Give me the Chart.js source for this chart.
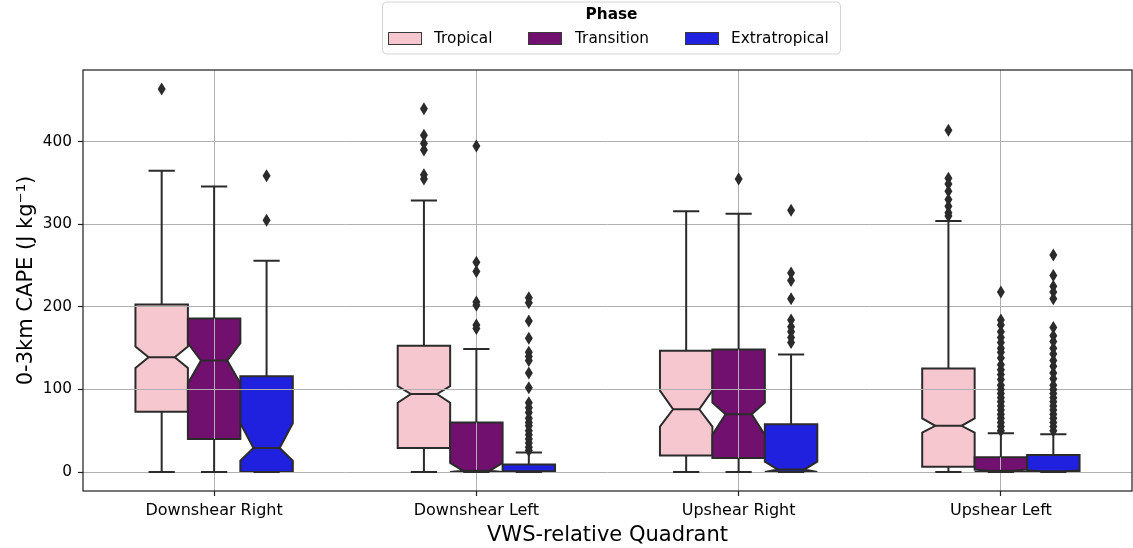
<!DOCTYPE html>
<html><head><meta charset="utf-8">
<script src="https://cdn.jsdelivr.net/npm/chart.js@4.4.0/dist/chart.umd.min.js"></script>
<style>html,body{margin:0;padding:0;background:#fff}#wrap{width:1133px;height:548px}</style>
</head><body><div id="wrap"><canvas id="c" width="1133" height="548"></canvas></div>
<script>
// ---- data (rows: Tropical, Transition, Extratropical; columns: categories) ----
const categories = ['Downshear Right', 'Downshear Left', 'Upshear Right', 'Upshear Left'];
const phases = ['Tropical', 'Transition', 'Extratropical'];
const phaseColors = ['#f7c7cf', '#721070', '#2020df'];
const yTicks = [0, 100, 200, 300, 400];

const whiskerLow  = [[0, 0, 0, 0], [0, 0, 0, 0], [0, 0, 0, 0]];
const q1          = [[73, 29, 20, 6.5], [40, 0, 17, 0], [0, 0, 0, 0]];
const notchLo     = [[126, 84, 55, 47.7], [107.5, 0, 45, 0], [13.7, 1, 0, 0.5]];
const median      = [[139, 94.5, 76, 56], [135, 1.5, 70, 1.5], [29, 1, 3, 1]];
const notchHi     = [[152, 104, 98.6, 65], [156, 11, 84, 3], [59, 1, 12.5, 2]];
const q3          = [[203, 153, 147, 125.5], [186, 60, 148.5, 17.8], [116, 9, 58, 20.6]];
const whiskerHigh = [[365, 329, 316, 304], [346, 149, 313, 47], [256, 23.5, 142.5, 45.7]];

const tropicalOutliers = [[464], [440, 408, 398, 390, 360, 355], [], [414, 356, 349, 340, 330, 322, 314, 310]];
const transitionOutliers = [[], [395, 254, 243, 206, 202, 178, 174], [355],
  [218, 184, 178, 170, 163, 157, 150, 145, 138, 130, 124, 118, 112, 105, 100, 95, 90, 85, 80, 75, 70, 65, 60, 55, 50]];
const extratropicalOutliers = [[359, 305],
  [211, 205, 183, 162, 145, 140, 135, 120, 102, 84, 78, 72, 65, 60, 56, 50, 45, 40, 35, 30, 26],
  [317, 241, 232, 210, 184, 176, 170, 163, 157],
  [263, 238, 225, 218, 210, 175, 165, 158, 150, 143, 135, 128, 120, 113, 105, 100, 95, 90, 85, 80, 75, 70, 65, 60, 55, 50]];
const outliers = [tropicalOutliers, transitionOutliers, extratropicalOutliers];

const FONT = "'DejaVu Sans', 'Liberation Sans', sans-serif";
const EDGE = '#2b2b2b';

function geom(chart, i, j) {
  const bar = chart.getDatasetMeta(i).data[j];
  const cx = bar.x, w = bar.width;
  return { cx, l: cx - w / 2, r: cx + w / 2, cl: cx - w / 4, cr: cx + w / 4 };
}

const boxPlugin = {
  id: 'notchedBoxes',
  afterDatasetsDraw(chart) {
    const ctx = chart.ctx, ys = chart.scales.y;
    const Y = v => ys.getPixelForValue(v);
    ctx.save();
    ctx.lineWidth = 2; ctx.strokeStyle = EDGE; ctx.lineJoin = 'miter';
    phases.forEach((p, i) => {
      categories.forEach((c, j) => {
        const g = geom(chart, i, j);
        ctx.beginPath();
        ctx.moveTo(g.l, Y(q1[i][j]));
        ctx.lineTo(g.r, Y(q1[i][j]));
        ctx.lineTo(g.r, Y(notchLo[i][j]));
        ctx.lineTo(g.cr, Y(median[i][j]));
        ctx.lineTo(g.r, Y(notchHi[i][j]));
        ctx.lineTo(g.r, Y(q3[i][j]));
        ctx.lineTo(g.l, Y(q3[i][j]));
        ctx.lineTo(g.l, Y(notchHi[i][j]));
        ctx.lineTo(g.cl, Y(median[i][j]));
        ctx.lineTo(g.l, Y(notchLo[i][j]));
        ctx.closePath();
        ctx.fillStyle = phaseColors[i];
        ctx.fill();
        ctx.stroke();
      });
    });
    ctx.restore();
  },
  afterDraw(chart) {
    const ctx = chart.ctx, ys = chart.scales.y, ca = chart.chartArea;
    const Y = v => ys.getPixelForValue(v);
    ctx.save();
    ctx.lineWidth = 2; ctx.strokeStyle = EDGE; ctx.fillStyle = EDGE; ctx.lineCap = 'butt';
    phases.forEach((p, i) => {
      categories.forEach((c, j) => {
        const g = geom(chart, i, j);
        ctx.beginPath();
        ctx.moveTo(g.cx, Y(q3[i][j])); ctx.lineTo(g.cx, Y(whiskerHigh[i][j]));
        ctx.moveTo(g.cx, Y(q1[i][j])); ctx.lineTo(g.cx, Y(whiskerLow[i][j]));
        ctx.moveTo(g.cl, Y(whiskerHigh[i][j])); ctx.lineTo(g.cr, Y(whiskerHigh[i][j]));
        ctx.moveTo(g.cl, Y(whiskerLow[i][j])); ctx.lineTo(g.cr, Y(whiskerLow[i][j]));
        ctx.moveTo(g.cl, Y(median[i][j])); ctx.lineTo(g.cr, Y(median[i][j]));
        ctx.stroke();
        outliers[i][j].forEach(v => {
          const py = Y(v);
          ctx.beginPath();
          ctx.moveTo(g.cx, py - 6.5); ctx.lineTo(g.cx + 4, py);
          ctx.lineTo(g.cx, py + 6.5); ctx.lineTo(g.cx - 4, py);
          ctx.closePath(); ctx.fill();
        });
      });
    });
    ctx.lineWidth = 1.25; ctx.strokeStyle = '#262626';
    ctx.strokeRect(ca.left, ca.top, ca.right - ca.left, ca.bottom - ca.top);
    const lx = 382.5, ly = 2, lw = 458, lh = 52, rad = 4;
    ctx.beginPath();
    ctx.moveTo(lx + rad, ly); ctx.lineTo(lx + lw - rad, ly); ctx.quadraticCurveTo(lx + lw, ly, lx + lw, ly + rad);
    ctx.lineTo(lx + lw, ly + lh - rad); ctx.quadraticCurveTo(lx + lw, ly + lh, lx + lw - rad, ly + lh);
    ctx.lineTo(lx + rad, ly + lh); ctx.quadraticCurveTo(lx, ly + lh, lx, ly + lh - rad);
    ctx.lineTo(lx, ly + rad); ctx.quadraticCurveTo(lx, ly, lx + rad, ly); ctx.closePath();
    ctx.fillStyle = 'rgba(255,255,255,0.8)'; ctx.fill();
    ctx.lineWidth = 1; ctx.strokeStyle = '#d4d4d4'; ctx.stroke();
    ctx.fillStyle = '#000'; ctx.textBaseline = 'middle'; ctx.textAlign = 'center';
    ctx.font = 'bold 15.3px ' + FONT;
    ctx.fillText('Phase', 611.5, 15.5);
    const patchX = [388, 528, 685], textX = [434, 575, 731];
    ctx.font = '15.3px ' + FONT; ctx.textAlign = 'left';
    phases.forEach((p, i) => {
      ctx.fillStyle = phaseColors[i];
      ctx.fillRect(patchX[i], 32.5, 34, 12);
      ctx.lineWidth = 1; ctx.strokeStyle = '#3a3a3a';
      ctx.strokeRect(patchX[i] + 0.5, 32.5, 33, 12);
      ctx.fillStyle = '#000';
      ctx.fillText(p, textX[i], 39);
    });
    ctx.restore();
  }
};

new Chart(document.getElementById('c').getContext('2d'), {
  type: 'bar',
  data: {
    labels: categories,
    datasets: phases.map((p, i) => ({
      label: p,
      data: categories.map((c, j) => [q1[i][j], q3[i][j]]),
      backgroundColor: 'rgba(0,0,0,0)',
      borderWidth: 0,
      categoryPercentage: 0.6,
      barPercentage: 1.0
    }))
  },
  options: {
    responsive: false,
    animation: false,
    devicePixelRatio: 1,
    layout: { padding: { top: 70, right: 1, left: 0, bottom: 0 } },
    plugins: { legend: { display: false }, tooltip: { enabled: false } },
    scales: {
      x: {
        grid: { offset: false, color: '#b0b0b0', lineWidth: 1, z: 1, tickLength: 5, tickColor: '#222', tickWidth: 1.2 },
        border: { display: false },
        ticks: { font: { family: FONT, size: 16 }, color: '#000', padding: 5, maxRotation: 0, autoSkip: false },
        title: { display: true, text: 'VWS-relative Quadrant', font: { family: FONT, size: 21 }, color: '#000', padding: { top: 0, bottom: 0 } },
        afterFit(s) { s.height = 57; }
      },
      y: {
        min: -23, max: 487,
        afterBuildTicks(s) { s.ticks = yTicks.map(v => ({ value: v })); },
        grid: { color: '#b0b0b0', lineWidth: 1, z: 1, tickLength: 5, tickColor: '#222', tickWidth: 1.2 },
        border: { display: false },
        ticks: { font: { family: FONT, size: 15.3 }, color: '#000', padding: 6, callback: v => String(v) },
        title: { display: true, text: '0-3km CAPE (J kg\u207B\u00B9)', font: { family: FONT, size: 21 }, color: '#000', padding: { top: 14, bottom: 0 } },
        afterFit(s) { s.width = 83; }
      }
    }
  },
  plugins: [boxPlugin]
});
</script></body></html>
